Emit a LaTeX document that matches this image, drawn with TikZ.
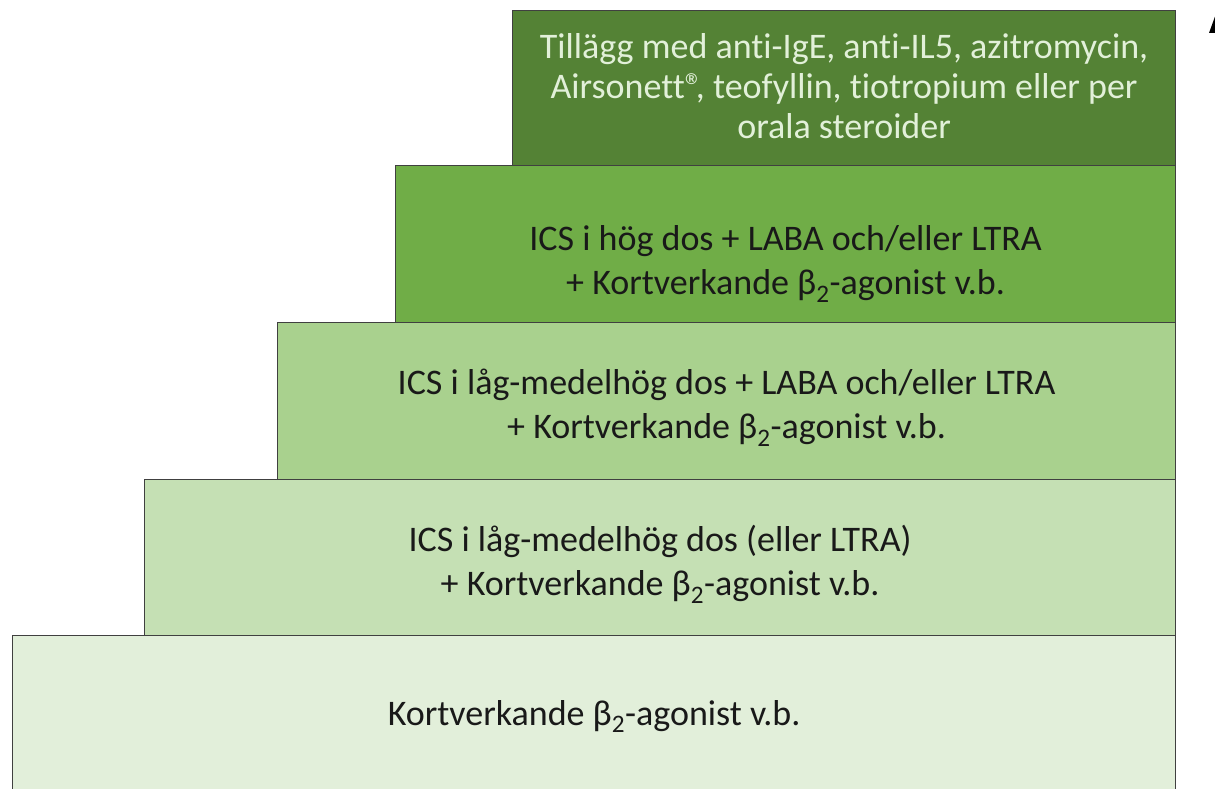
\documentclass[tikz,border=0pt]{standalone}
\usepackage{fontspec}
\setmainfont{Carlito}[Ligatures={NoCommon,TeX}]
\usepackage{tikz}
\usepackage{xcolor}
\definecolor{steg1}{HTML}{E2EFDA}
\definecolor{steg2}{HTML}{C5E0B4}
\definecolor{steg3}{HTML}{A9D18E}
\definecolor{steg4}{HTML}{70AD47}
\definecolor{steg5}{HTML}{548235}
\definecolor{ljustext}{HTML}{E2F0D9}

\begin{document}
\begin{tikzpicture}[x=1pt, y=-1pt,
    trappsteg/.style={draw=black!75, line width=1.2pt, anchor=north west, inner sep=0pt},
    stegtext/.style={align=center, inner sep=0pt, text=black!90,
      font=\fontsize{36}{44}\selectfont}]
    \clip (0,0) rectangle (1215,789);
    % Trappsteg, nedifr\aa n och upp
    \node[trappsteg, fill=steg1, minimum width=1163pt, minimum height=156pt] (steg1) at (12,635) {};
    \node[trappsteg, fill=steg2, minimum width=1031pt, minimum height=156pt] (steg2) at (144,479) {};
    \node[trappsteg, fill=steg3, minimum width=898pt, minimum height=157pt] (steg3) at (277,322) {};
    \node[trappsteg, fill=steg4, minimum width=780pt, minimum height=157pt] (steg4) at (395,165) {};
    \node[trappsteg, fill=steg5, minimum width=663pt, minimum height=155pt] (steg5) at (512,10) {};
    % Texter
    \node[stegtext, yshift=-3pt] (text1) at (steg1.center)
      {Kortverkande β\textsubscript{2}-agonist v.b.};
    \node[stegtext, yshift=-7pt] (text2) at (steg2.center)
      {ICS i låg-medelhög dos (eller LTRA)\\+ Kortverkande β\textsubscript{2}-agonist v.b.};
    \node[stegtext, yshift=-7pt] (text3) at (steg3.center)
      {ICS i låg-medelhög dos + LABA och/eller LTRA\\+ Kortverkande β\textsubscript{2}-agonist v.b.};
    \node[stegtext, yshift=-20pt] (text4) at (steg4.center)
      {ICS i hög dos + LABA och/eller LTRA\\+ Kortverkande β\textsubscript{2}-agonist v.b.};
    \node[stegtext, text=ljustext, font=\fontsize{36}{40}\selectfont, yshift=2pt] (text5) at (steg5.center)
      {Tillägg med anti-IgE, anti-IL5, azitromycin,\\Airsonett®\kern-0.2em, teofyllin, tiotropium eller per\\orala steroider};
    % Pilspets i h\"ornet
    \fill[black] (1209,33) -- (1217,11) -- (1225,33) -- cycle;
\end{tikzpicture}
\end{document}
